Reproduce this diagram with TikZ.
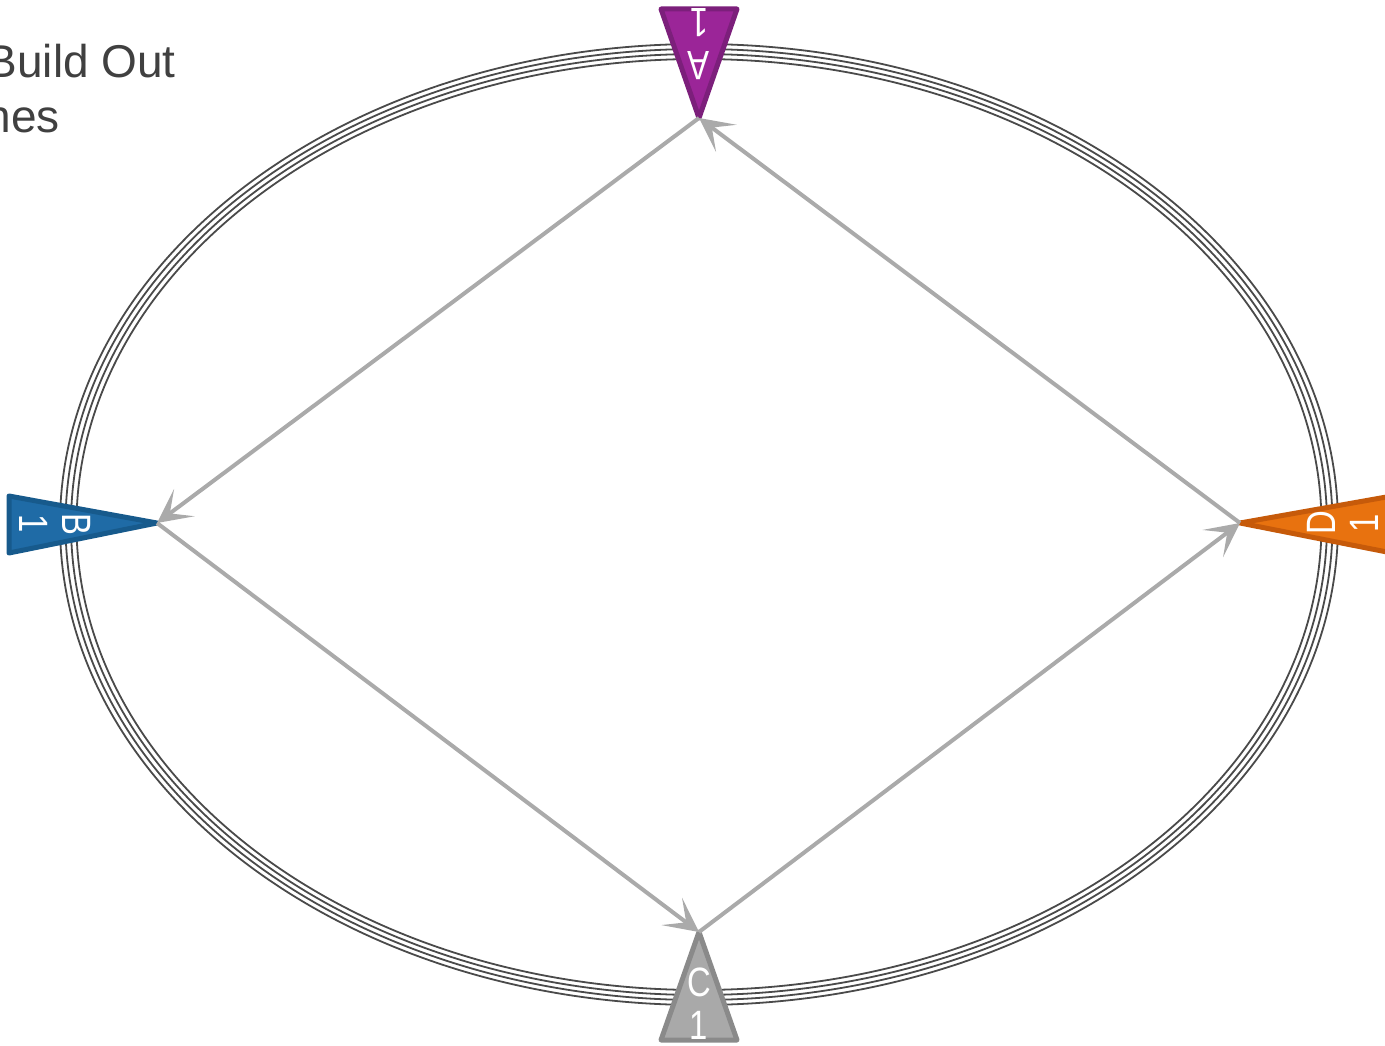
\documentclass[tikz,border=0pt]{standalone}
\usepackage{fontspec}
\setmainfont{Liberation Sans}
\newfontfamily\trifont[FakeStretch=0.8]{Liberation Sans}
\usetikzlibrary{arrows.meta}
\definecolor{ringc}{HTML}{4A4A4A}
\definecolor{arrc}{HTML}{AAAAAA}
\definecolor{titlec}{HTML}{404040}
\definecolor{pfill}{HTML}{9B2598}
\definecolor{pline}{HTML}{7C1F7B}
\definecolor{bfill}{HTML}{1F6BA6}
\definecolor{bline}{HTML}{175A8C}
\definecolor{ofill}{HTML}{E8720F}
\definecolor{oline}{HTML}{C65A0A}
\definecolor{gfill}{HTML}{A9A9A9}
\definecolor{gline}{HTML}{8A8A8A}
\tikzset{
  ring/.style={draw=ringc, line width=1.8pt},
  tri/.style={line width=5pt, line join=round},
  arrline/.style={draw=arrc, line width=4pt, -{Stealth[length=34pt,width=34pt,inset=18pt]}},
  lab/.style={text=white, font=\trifont\fontsize{41}{43}\selectfont, align=center, inner sep=0pt},
  title/.style={text=titlec, font=\fontsize{46}{55}\selectfont, inner sep=0pt}
}
\begin{document}
\begin{tikzpicture}[x=1pt,y=-1pt]
\useasboundingbox (0,0) rectangle (1385,1046);
% title (cut off on the left, as in the reference)
\node[title, anchor=base east] (t1) at (176,78) {Build Out};
\node[title, anchor=base east] (t2) at (60,133) {nes};
% rings
\foreach \k in {0,1,2,3} {
  \draw[ring] (699,524.5) ellipse [x radius={639-5.5*\k}, y radius={480.5-5*\k}];
}
% apex coordinates
\coordinate (aA) at (699,118);
\coordinate (aB) at (157,523);
\coordinate (aC) at (699,932);
\coordinate (aD) at (1240,523);
% triangles
\filldraw[tri, fill=pfill, draw=pline] (661,9) -- (737,9) -- (aA) -- cycle;
\filldraw[tri, fill=bfill, draw=bline] (9,496) -- (9,553) -- (aB) -- cycle;
\filldraw[tri, fill=ofill, draw=oline] (1392,496) -- (1392,553) -- (aD) -- cycle;
\filldraw[tri, fill=gfill, draw=gline] (661,1040) -- (737,1040) -- (aC) -- cycle;
% labels
\node[lab, rotate=180] (lA) at (699,44) {A\\1};
\node[lab, rotate=-90] (lB) at (55,524) {B\\1};
\node[lab, rotate=90] (lD) at (1343,523) {D\\1};
\node[lab] (lC) at (699,1004) {C\\1};
% arrows
\draw[arrline] (aA) -- (aB);
\draw[arrline] (aB) -- (aC);
\draw[arrline] (aC) -- (aD);
\draw[arrline] (aD) -- (aA);
\end{tikzpicture}
\end{document}
